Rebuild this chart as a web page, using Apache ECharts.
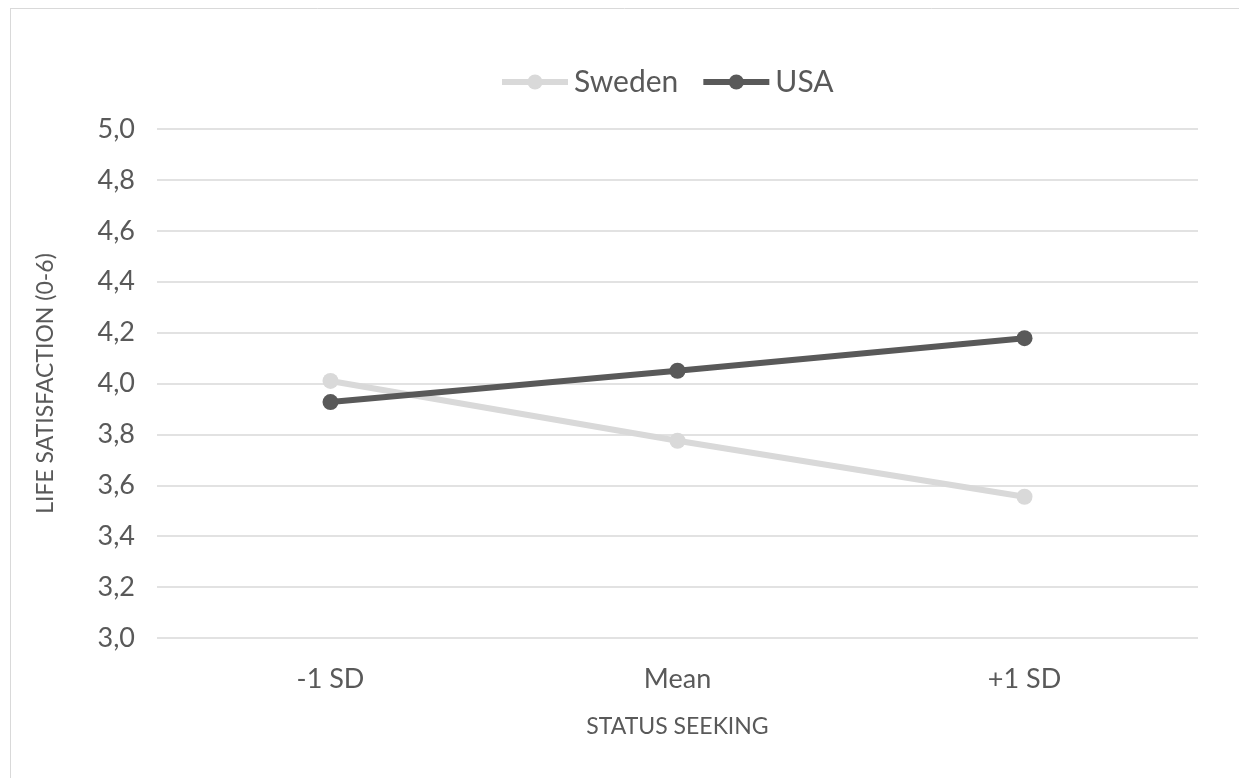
<!DOCTYPE html>
<html><head><meta charset="utf-8">
<script src="https://cdn.jsdelivr.net/npm/echarts@6/dist/echarts.min.js"></script>
<style>html,body{margin:0;padding:0;background:#fff}#c{width:1239px;height:778px}</style>
</head><body><div id="c"></div>
<script>
const categories = ['-1 SD', 'Mean', '+1 SD'];
const sweden = [4.01, 3.775, 3.555];
const usa = [3.927, 4.05, 4.178];
const yTicks = {min: 3.0, max: 5.0, interval: 0.2};

const chart = echarts.init(document.getElementById('c'));
const font = 'Lato, "Open Sans", sans-serif';
chart.setOption({
  animation: false,
  backgroundColor: '#fff',
  textStyle: {fontFamily: font},
  graphic: [
    {type: 'line', shape: {x1: 10, y1: 8.5, x2: 1239, y2: 8.5}, style: {stroke: '#d9d9d9', lineWidth: 1}},
    {type: 'line', shape: {x1: 10.5, y1: 8, x2: 10.5, y2: 778}, style: {stroke: '#d9d9d9', lineWidth: 1}}
  ],
  legend: {
    top: 62, left: 494, itemGap: 22, itemWidth: 66, itemHeight: 19,
    lineStyle: {width: 6},
    textStyle: {fontSize: 30, color: '#595959', fontFamily: font, padding: [0,0,0,1]},
    data: ['Sweden', 'USA']
  },
  grid: {left: 157, right: 41, top: 129, bottom: 140, containLabel: false},
  xAxis: {
    type: 'category', data: categories, boundaryGap: true,
    axisLine: {show: false}, axisTick: {show: false},
    axisLabel: {fontSize: 27, color: '#595959', margin: 28, fontFamily: font},
    name: 'STATUS SEEKING', nameLocation: 'middle', nameGap: 77,
    nameTextStyle: {fontSize: 23, color: '#595959', fontFamily: font}
  },
  yAxis: {
    type: 'value', min: yTicks.min, max: yTicks.max, interval: yTicks.interval,
    axisLine: {show: false}, axisTick: {show: false},
    splitLine: {lineStyle: {color: '#d9d9d9', width: 1.5}},
    axisLabel: {fontSize: 27, color: '#595959', margin: 22, fontFamily: font,
      formatter: v => v.toFixed(1).replace('.', ',')},
    name: 'LIFE SATISFACTION (0-6)', nameLocation: 'middle', nameGap: 100, nameRotate: 90,
    nameTextStyle: {fontSize: 23, color: '#595959', fontFamily: font}
  },
  series: [
    {name: 'Sweden', type: 'line', data: sweden, symbol: 'circle', symbolSize: 16,
     lineStyle: {color: '#d9d9d9', width: 6}, itemStyle: {color: '#d9d9d9'}},
    {name: 'USA', type: 'line', data: usa, symbol: 'circle', symbolSize: 16,
     lineStyle: {color: '#595959', width: 6}, itemStyle: {color: '#595959'}}
  ]
});
</script></body></html>
